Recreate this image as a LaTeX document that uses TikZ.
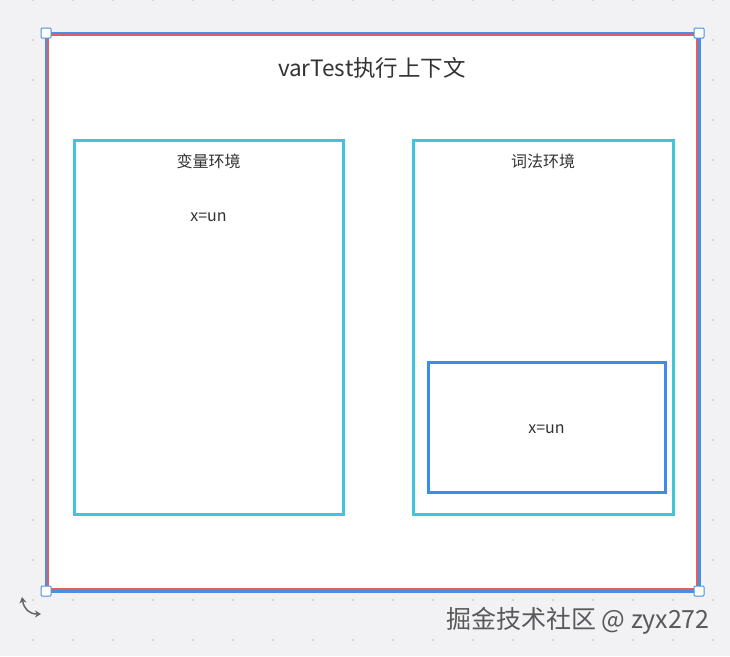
\documentclass[tikz,border=0pt]{standalone}
\usepackage{fontspec}
\setmainfont{Noto Sans CJK SC}
\usetikzlibrary{positioning,arrows.meta}
\definecolor{bggray}{HTML}{F2F2F4}
\definecolor{dotgray}{HTML}{C8C8CC}
\definecolor{selblue}{HTML}{4A90E2}
\definecolor{ctxred}{HTML}{E06060}
\definecolor{envcyan}{HTML}{3FC6DA}
\definecolor{lexblue}{HTML}{3A8EE8}
\definecolor{txtgray}{HTML}{333333}

\begin{document}
\begin{tikzpicture}
  [x=1pt,y=-1pt,every node/.style={inner sep=0pt,text=txtgray,font=\fontsize{16}{18}\selectfont},
   envbox/.style={draw=envcyan,line width=3pt,fill=white},
   handle/.style={draw=selblue,line width=1pt,fill=white,minimum size=10pt,rounded corners=1pt}]
  \fill[bggray] (0,0) rectangle (730,656);
  \useasboundingbox (0,0) rectangle (730,656);
  \foreach \i in {0,...,17}
    \foreach \j in {0,...,16}
      \fill[dotgray] (33+40*\i,40*\j) circle (1.2pt);

  % execution context frame
  \draw[selblue,line width=3pt,fill=white] (46,33) rectangle (699,591);
  \draw[ctxred,line width=1.5pt] (48,35) rectangle (697,589);
  \node[handle] (h1) at (46,33) {};
  \node[handle] (h2) at (699,33) {};
  \node[handle] (h3) at (46,591) {};
  \node[handle] (h4) at (699,591) {};
  \node[font=\fontsize{22.5}{26}\selectfont] (title) at (372,68) {varTest执行上下文};

  % environments
  \node[envbox,minimum width=269pt,minimum height=374pt] (varenv) at (208.5,327) {};
  \node[envbox,minimum width=260pt,minimum height=374pt] (lexenv) at (543,327) {};
  \node[draw=lexblue,line width=3pt,fill=white,minimum width=237pt,minimum height=130pt] (lexrec) at (546.5,427) {};
  \node[below=15pt of varenv.north] (varname) {变量环境};
  \node[below=74pt of varenv.north] (varx) {x=un};
  \node[below=15pt of lexenv.north] (lexname) {词法环境};
  \node[yshift=-2pt] (lexx) at (lexrec) {x=un};

  % watermark and rotate icon
  \node[text=gray!70!black,font=\fontsize{25}{28}\selectfont] (mark) at (578,621) {掘金技术社区 @ zyx272};
  \coordinate (r1) at (22,597);
  \coordinate (r2) at (41,614);
  \draw[gray!80!black,line width=1.5pt,{Stealth[length=6pt,width=7pt]}-{Stealth[length=6pt,width=7pt]}]
    (r1) .. controls (24,609) and (29,614) .. (r2);
\end{tikzpicture}
\end{document}
